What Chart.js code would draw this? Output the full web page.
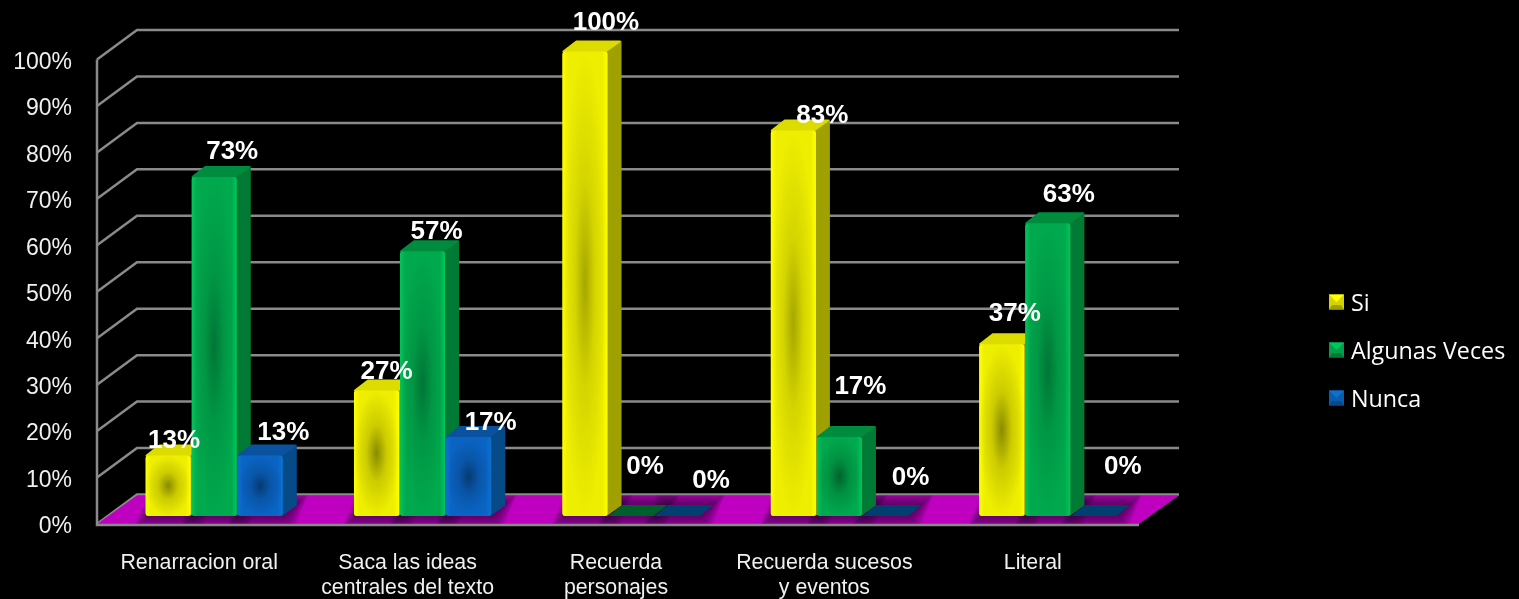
<!DOCTYPE html>
<html>
<head>
<meta charset="utf-8">
<style>
  html, body { margin: 0; padding: 0; background: #000; overflow: hidden; }
  #wrap { width: 1519px; height: 599px; }
</style>
<script src="https://cdn.jsdelivr.net/npm/chart.js@4"></script>
</head>
<body>
<div id="wrap"><canvas id="chart"></canvas></div>
<script>
// values
const categories = [
  'Renarracion oral',
  ['Saca las ideas', 'centrales del texto'],
  ['Recuerda', 'personajes'],
  ['Recuerda sucesos', 'y eventos'],
  'Literal',
];
const si      = [13, 27, 100, 83, 37];
const algunas = [73, 57, 0, 17, 63];
const nunca   = [13, 17, 0, 0, 0];

const FONT = '"Liberation Sans", Arial, sans-serif';

// wall / floor depth, and where the bars stand on the floor
const WALL_DX = 40, WALL_DY = 29.5;
const BAR_SHIFT_X = 13, BAR_SHIFT_Y = 8;
const BAR_DX = 14, BAR_DY = 11;
const GRID = '#8a8a8a';

const looks = [
  { front: '#eeee00', edge: '#ffff00', side: '#a0a000', top: '#dcdc00', flat: '#a0a000', icon: '#d4d400' },
  { front: '#00a94d', edge: '#00c75c', side: '#007a34', top: '#008c3e', flat: '#00602c', icon: '#00a04a' },
  { front: '#0a64c4', edge: '#0f70d0', side: '#064a88', top: '#0a52a0', flat: '#003f70', icon: '#0a5cb0' },
];

// data labels were placed by hand in the original: offset from each bar's top centre
const labelNudge = [
  [[6, -18], [10, -22], [21, -32], [29, -18], [13, -33]],
  [[18, -28], [14, -22], [14, -52], [21, -53], [21, -32]],
  [[23, -26], [22, -17], [34, -38], [25, -41], [29, -52]],
];

function quad(ctx, pts, fill, soft) {
  ctx.beginPath();
  pts.forEach((p, i) => i ? ctx.lineTo(p[0], p[1]) : ctx.moveTo(p[0], p[1]));
  ctx.closePath();
  ctx.fillStyle = fill;
  ctx.fill();
  if (soft) {
    ctx.strokeStyle = fill;
    ctx.lineWidth = 2;
    ctx.lineJoin = 'round';
    ctx.stroke();
  }
}

function drawWallsAndFloor(chart) {
  const { ctx, chartArea: a, scales: { y } } = chart;
  ctx.save();
  ctx.strokeStyle = GRID;
  ctx.lineWidth = 2.5;
  y.ticks.forEach(t => {
    const py = y.getPixelForValue(t.value);
    ctx.beginPath();
    ctx.moveTo(a.left, py);
    ctx.lineTo(a.left + WALL_DX, py - WALL_DY);
    ctx.lineTo(a.right + WALL_DX, py - WALL_DY);
    ctx.stroke();
  });
  const base = y.getPixelForValue(0);
  const floor = [[a.left, base], [a.left + WALL_DX, base - WALL_DY + 1], [a.right + WALL_DX, base - WALL_DY + 1], [a.right, base]];
  quad(ctx, floor, '#c000c0');
  // soft shadows on the floor, built from growing see-through layers
  ctx.save();
  ctx.clip();
  chart.getSortedVisibleDatasetMetas().forEach(meta => {
    meta.data.forEach(el => {
      const l = el.x - el.width / 2 + BAR_SHIFT_X, r = el.x + el.width / 2 + BAR_SHIFT_X, b = el.base - BAR_SHIFT_Y;
      for (let k = 1; k <= 10; k++) {
        const g = k * 1.2;
        quad(ctx, [[l - g, b + g], [r + g, b + g], [r + BAR_DX + g, b - BAR_DY - g], [l + BAR_DX - g, b - BAR_DY - g]], 'rgba(40,0,50,.09)');
      }
    });
  });
  ctx.restore();
  // front edges of the box
  ctx.strokeStyle = GRID;
  ctx.lineWidth = 2.5;
  ctx.beginPath();
  ctx.moveTo(a.left, y.getPixelForValue(100));
  ctx.lineTo(a.left, base + 1);
  ctx.lineTo(a.right, base + 1);
  ctx.stroke();
  ctx.restore();
}

function drawDepthFaces(chart, d) {
  const { ctx } = chart;
  const look = looks[d];
  chart.getDatasetMeta(d).data.forEach((el, i) => {
    const l = el.x - el.width / 2, r = el.x + el.width / 2, t = el.y, b = el.base;
    const flat = chart.data.datasets[d].data[i] === 0;
    if (flat) {
      quad(ctx, [[l, t], [l + BAR_DX, t - BAR_DY], [r + BAR_DX, t - BAR_DY], [r, t]], look.flat);
      return;
    }
    quad(ctx, [[r - 1, t + 1], [r + BAR_DX - 1, t - BAR_DY + 1], [r + BAR_DX - 1, b - BAR_DY], [r - 1, b - 1]], look.side, true);
    quad(ctx, [[l + 1, t], [l + BAR_DX, t - BAR_DY + 1], [r + BAR_DX - 2, t - BAR_DY + 1], [r - 2, t]], look.top, true);
  });
}

function shadeFronts(chart, d) {
  const { ctx } = chart;
  const look = looks[d];
  chart.getDatasetMeta(d).data.forEach((el, i) => {
    if (chart.data.datasets[d].data[i] === 0) return;
    const l = el.x - el.width / 2, w = el.width, t = el.y, h = el.base - el.y;
    ctx.save();
    ctx.beginPath();
    ctx.roundRect(l, t, w, h, 3);
    ctx.clip();
    const edge = ctx.createLinearGradient(l, 0, l + w, 0);
    edge.addColorStop(0, look.edge);
    edge.addColorStop(0.12, look.edge + '00');
    edge.addColorStop(0.88, look.edge + '00');
    edge.addColorStop(1, look.edge);
    ctx.fillStyle = edge;
    ctx.fillRect(l, t, w, h);
    // dark spot in the middle of the face, fainter on the tall bars
    const a = h < 200 ? 0.42 : 0.3;
    ctx.translate(l + w / 2, t + h / 2);
    ctx.scale(w / 2, h / 2);
    const dark = ctx.createRadialGradient(0, 0, 0, 0, 0, 1);
    dark.addColorStop(0, `rgba(0,0,0,${a})`);
    dark.addColorStop(0.45, `rgba(0,0,0,${a * 0.35})`);
    dark.addColorStop(1, 'rgba(0,0,0,0)');
    ctx.fillStyle = dark;
    ctx.fillRect(-1, -1, 2, 2);
    ctx.restore();
  });
}

const box3d = {
  id: 'box3d',
  // the default loop paints the last dataset first; here Si has to go first
  beforeDatasetDraw() { return false; },
  beforeDatasetsDraw(chart) {
    const { ctx } = chart;
    drawWallsAndFloor(chart);
    ctx.save();
    ctx.translate(BAR_SHIFT_X, -BAR_SHIFT_Y);
    chart.data.datasets.forEach((ds, d) => {
      drawDepthFaces(chart, d);
      chart.getDatasetMeta(d).controller.draw();
      shadeFronts(chart, d);
    });
    ctx.restore();
  },
  afterDatasetsDraw(chart) {
    const { ctx } = chart;
    ctx.save();
    ctx.font = 'bold 26px ' + FONT;
    ctx.fillStyle = '#fff';
    ctx.textAlign = 'center';
    ctx.textBaseline = 'middle';
    chart.data.datasets.forEach((ds, d) => {
      chart.getDatasetMeta(d).data.forEach((el, i) => {
        const n = labelNudge[d][i];
        ctx.fillText(ds.data[i] + '%', el.x + BAR_SHIFT_X + n[0], el.y - BAR_SHIFT_Y + n[1] + 3);
      });
    });
    // legend, off to the right like the original
    ctx.font = '23.3px "Open Sans", sans-serif';
    ctx.textAlign = 'left';
    chart.data.datasets.forEach((ds, d) => {
      const cy = 302 + d * 48, x = 1329, s = 15, look = looks[d];
      ctx.fillStyle = look.icon;
      ctx.fillRect(x, cy - s / 2, s, s);
      quad(ctx, [[x, cy - s / 2], [x + s, cy - s / 2], [x + s / 2, cy]], look.edge);
      quad(ctx, [[x, cy + s / 2], [x + s, cy + s / 2], [x + s - 3, cy + 3], [x + 3, cy + 3]], look.side);
      ctx.fillStyle = '#fff';
      ctx.fillText(ds.label, x + 22, cy + 2);
    });
    ctx.restore();
  },
};

function makeSet(label, data, i) {
  return {
    label,
    data,
    clip: false,
    backgroundColor: looks[i].front,
    borderWidth: 0,
    borderRadius: 3,
    borderSkipped: false,
    barPercentage: 0.98,
    categoryPercentage: 0.663,
  };
}

new Chart(document.getElementById('chart'), {
  type: 'bar',
  data: {
    labels: categories,
    datasets: [
      makeSet('Si', si, 0),
      makeSet('Algunas Veces', algunas, 1),
      makeSet('Nunca', nunca, 2),
    ],
  },
  options: {
    responsive: true,
    maintainAspectRatio: false,
    animation: false,
    layout: { padding: { top: 59.5, right: 380, left: 0, bottom: 0 } },
    plugins: { legend: { display: false }, tooltip: { enabled: false } },
    scales: {
      x: {
        grid: { display: false },
        border: { display: false },
        afterFit: s => { s.height = 75; },
        ticks: { color: '#f0f0f0', font: { family: FONT, size: 21.3, lineHeight: 1.17 }, padding: 19, maxRotation: 0, autoSkip: false, labelOffset: -2 },
      },
      y: {
        min: 0,
        max: 100,
        grid: { display: false },
        border: { display: false },
        afterFit: s => { s.width = 97; },
        ticks: { stepSize: 10, color: '#f0f0f0', font: { family: FONT, size: 23 }, padding: 17, labelOffset: 3, callback: v => v + '%' },
      },
    },
  },
  plugins: [box3d],
});
</script>
</body>
</html>
